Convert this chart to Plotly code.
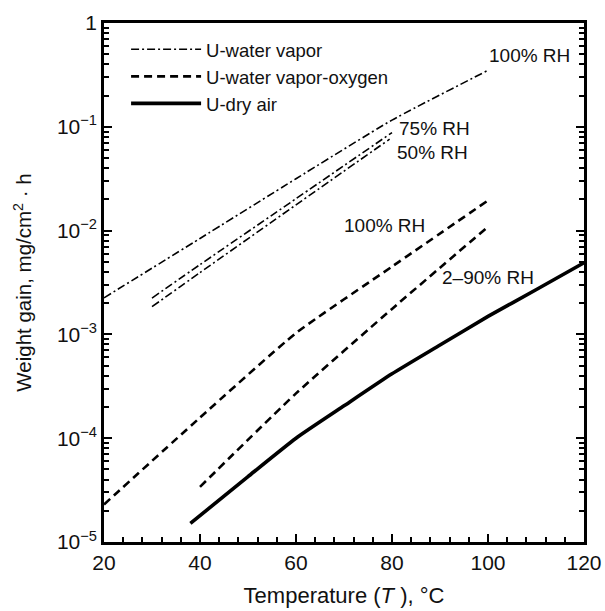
import math
import plotly.graph_objects as go

# Data (T in °C, weight gain in mg/cm^2·h)
wv100_T = [20, 40, 60, 80, 100]
wv100_v = [2.25e-3, 8.4e-3, 0.0316, 0.116, 0.35]
wv75_T = [30, 40, 60, 80]
wv75_v = [2.24e-3, 4.7e-3, 0.0203, 0.088]
wv50_T = [30, 40, 60, 79.5]
wv50_v = [1.85e-3, 3.94e-3, 0.0177, 0.076]
wvo100_T = [20, 40, 60, 80, 100]
wvo100_v = [2.3e-5, 1.58e-4, 1.03e-3, 4.5e-3, 0.0195]
wvo290_T = [40, 60, 80, 100]
wvo290_v = [3.4e-5, 2.7e-4, 1.76e-3, 0.0109]
dry_T = [38, 50, 60, 70, 80, 90, 100, 110, 120]
dry_v = [1.51e-5, 4.27e-5, 1.0e-4, 2.05e-4, 4.17e-4, 7.9e-4, 1.49e-3, 2.69e-3, 4.9e-3]

y_tickvals = [1e-5, 1e-4, 1e-3, 1e-2, 1e-1, 1]
y_ticktext = ["10<sup>−5</sup>", "10<sup>−4</sup>", "10<sup>−3</sup>",
              "10<sup>−2</sup>", "10<sup>−1</sup>", "1"]
y_minor = [m * 10 ** e for e in range(-5, 0) for m in range(2, 10)]

labels = ["100% RH", "75% RH", "50% RH", "100% RH", "2–90% RH"]
label_T = [99.8, 81.0, 80.6, 69.6, 90.0]
label_v = [0.49, 0.0973, 0.0571, 0.0113, 3.57e-3]

FONT = "Liberation Sans, Arial, sans-serif"
INK = "#111111"

fig = go.Figure()
dd = "8px,3px,2px,3px"
SM = 0.5
fig.add_trace(go.Scatter(x=wv100_T, y=wv100_v, mode="lines", name="U-water vapor",
                         line=dict(color="black", width=1.6, dash=dd, shape="spline",
                                   smoothing=SM), legendgroup="a"))
fig.add_trace(go.Scatter(x=wv75_T, y=wv75_v, mode="lines", showlegend=False,
                         line=dict(color="black", width=1.6, dash=dd, shape="spline",
                                   smoothing=SM), legendgroup="a"))
fig.add_trace(go.Scatter(x=wv50_T, y=wv50_v, mode="lines", showlegend=False,
                         line=dict(color="black", width=1.6, dash=dd, shape="spline",
                                   smoothing=SM), legendgroup="a"))
fig.add_trace(go.Scatter(x=wvo100_T, y=wvo100_v, mode="lines", name="U-water vapor-oxygen",
                         line=dict(color="black", width=2.6, dash="8px,5px", shape="spline",
                                   smoothing=SM), legendgroup="b"))
fig.add_trace(go.Scatter(x=wvo290_T, y=wvo290_v, mode="lines", showlegend=False,
                         line=dict(color="black", width=2.6, dash="8px,5px", shape="spline",
                                   smoothing=SM), legendgroup="b"))
fig.add_trace(go.Scatter(x=dry_T, y=dry_v, mode="lines", name="U-dry air",
                         line=dict(color="black", width=3.6, shape="spline", smoothing=SM),
                         legendgroup="c"))

for txt, x, y in zip(labels, label_T, label_v):
    fig.add_annotation(x=x, y=math.log10(y), xref="x", yref="y", text=txt,
                       showarrow=False, xanchor="left", yanchor="middle",
                       font=dict(family=FONT, size=19, color=INK))

fig.update_xaxes(range=[20, 120], dtick=20, tick0=20, showline=True, linewidth=2.5,
                 linecolor="black", mirror=True, ticks="inside", ticklen=8, tickwidth=1.5,
                 tickcolor="black", showgrid=False, zeroline=False, automargin=False,
                 minor=dict(dtick=4, tick0=20, ticks="inside", ticklen=5, tickwidth=1.5,
                            tickcolor="black", showgrid=False),
                 tickfont=dict(family=FONT, size=21, color=INK),
                 title=dict(text="Temperature (<i>T</i> ), °C", standoff=15,
                            font=dict(family=FONT, size=22, color=INK)))
fig.update_yaxes(type="log", range=[-5, 0], tickvals=y_tickvals, ticktext=y_ticktext,
                 showline=True, linewidth=2.5, linecolor="black", mirror="ticks",
                 ticks="inside", ticklen=8, tickwidth=1.5, tickcolor="black",
                 showgrid=False, zeroline=False, automargin=False,
                 minor=dict(tickvals=y_minor, ticks="inside", ticklen=5, tickwidth=1.5,
                            tickcolor="black", showgrid=False),
                 tickfont=dict(family=FONT, size=21, color=INK),
                 title=dict(text="Weight gain, mg/cm<sup>2</sup> · h", standoff=20,
                            font=dict(family=FONT, size=20.5, color=INK)))

fig.update_layout(
    width=605, height=611,
    margin=dict(l=104, r=21, t=23, b=69, autoexpand=False),
    plot_bgcolor="white", paper_bgcolor="white",
    showlegend=True,
    legend=dict(x=0.046, y=0.985, xanchor="left", yanchor="top",
                bgcolor="rgba(0,0,0,0)", font=dict(family=FONT, size=18.5, color=INK),
                tracegroupgap=0, itemwidth=70),
)

fig.write_html("out.html", config={"displayModeBar": False},
               post_script="document.body.style.margin='0';document.body.style.overflow='hidden';")
